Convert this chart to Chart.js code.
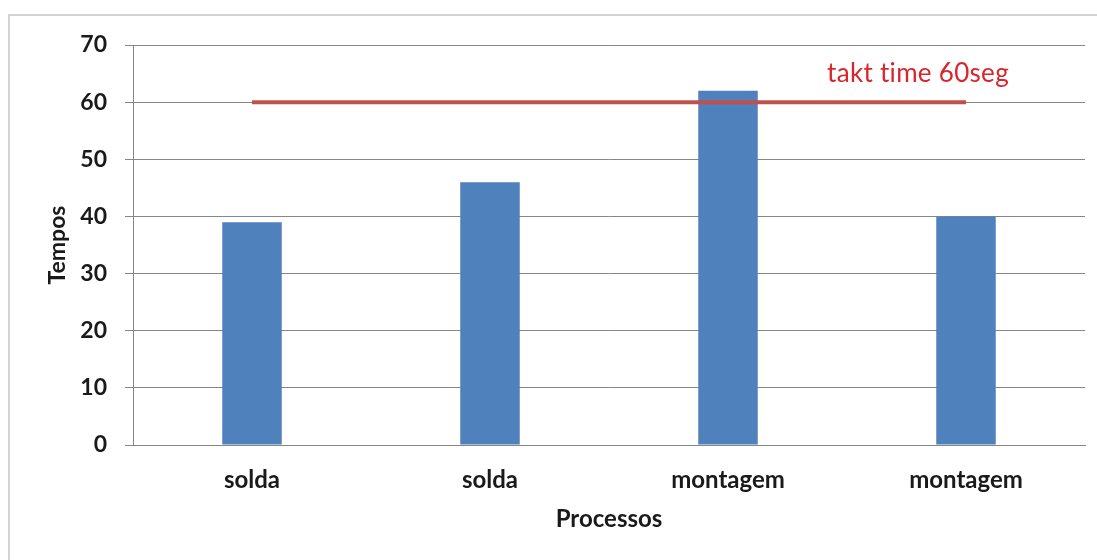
<!DOCTYPE html>
<html lang="pt">
<head>
    <meta charset="UTF-8">
    <title>Tempos por processo</title>
    <script src="https://cdn.jsdelivr.net/npm/chart.js"></script>
    <style>
        html, body {
            margin: 0;
            padding: 0;
            background: #ffffff;
            overflow: hidden;
        }
        .moldura {
            position: absolute;
            left: 8px;
            top: 14px;
            width: 1200px;
            height: 700px;
            border: 2px solid #d4d4d4;
        }
        .chart-box {
            position: absolute;
            left: 0;
            top: 0;
            width: 1097px;
            height: 560px;
        }
    </style>
</head>
<body>
    <div class="moldura"></div>
    <div class="chart-box">
        <canvas id="temposChart"></canvas>
    </div>

    <script>
        // Dados
        const processos = ['solda', 'solda', 'montagem', 'montagem'];
        const tempos = [39, 46, 62, 40];
        const taktTime = [60, 60, 60, 60];
        const taktLabel = 'takt time 60seg';
        const yTicks = [0, 10, 20, 30, 40, 50, 60, 70];

        const fonte = '"Lato", "Liberation Sans", sans-serif';

        // Texto do takt time, posicionado pelas escalas
        const taktText = {
            id: 'taktText',
            afterDatasetsDraw(chart) {
                const { ctx, scales } = chart;
                const x = scales.x.getPixelForValue(3) - 48;
                const y = scales.y.getPixelForValue(65);
                ctx.save();
                ctx.font = '26px ' + fonte;
                ctx.letterSpacing = '0.3px'; // evita a ligadura "ti"
                ctx.fillStyle = '#d9252b';
                ctx.textAlign = 'center';
                ctx.textBaseline = 'middle';
                ctx.fillText(taktLabel, x, y);
                ctx.restore();
            }
        };

        const ctx = document.getElementById('temposChart').getContext('2d');
        new Chart(ctx, {
            data: {
                labels: processos,
                datasets: [
                    {
                        type: 'line',
                        label: 'takt time',
                        data: taktTime,
                        borderColor: '#c0504d',
                        borderWidth: 4,
                        pointRadius: 0,
                        fill: false,
                        order: 0
                    },
                    {
                        type: 'bar',
                        label: 'Tempos',
                        data: tempos,
                        backgroundColor: '#4f81bd',
                        categoryPercentage: 1,
                        barPercentage: 0.25,
                        order: 1
                    }
                ]
            },
            options: {
                responsive: true,
                maintainAspectRatio: false,
                animation: false,
                layout: {
                    padding: { top: 45, right: 12, left: 0, bottom: 0 }
                },
                plugins: {
                    legend: { display: false },
                    tooltip: { enabled: false }
                },
                scales: {
                    x: {
                        grid: { display: false, drawTicks: false },
                        border: { display: true, color: '#868686', width: 1 },
                        ticks: {
                            color: '#1a1a1a',
                            padding: 21,
                            font: { family: fonte, size: 24, weight: 'bold' }
                        },
                        title: {
                            display: true,
                            text: 'Processos',
                            color: '#1a1a1a',
                            padding: { top: 0, bottom: 26 },
                            font: { family: fonte, size: 24, weight: 'bold' }
                        },
                        afterFit(scale) {
                            scale.height = 115;
                        }
                    },
                    y: {
                        min: 0,
                        max: 70,
                        afterBuildTicks(scale) {
                            scale.ticks = yTicks.map(v => ({ value: v }));
                        },
                        grid: {
                            color: '#868686',
                            lineWidth: 1,
                            drawTicks: true,
                            tickLength: 8
                        },
                        border: { display: true, color: '#868686', width: 1 },
                        ticks: {
                            color: '#1a1a1a',
                            padding: 18,
                            font: { family: fonte, size: 23, weight: 'bold' }
                        },
                        title: {
                            display: true,
                            text: 'Tempos',
                            color: '#1a1a1a',
                            padding: { top: 44, bottom: 0 },
                            font: { family: fonte, size: 23, weight: 'bold' }
                        },
                        afterFit(scale) {
                            scale.width = 133;
                        }
                    }
                }
            },
            plugins: [taktText]
        });
    </script>
</body>
</html>
